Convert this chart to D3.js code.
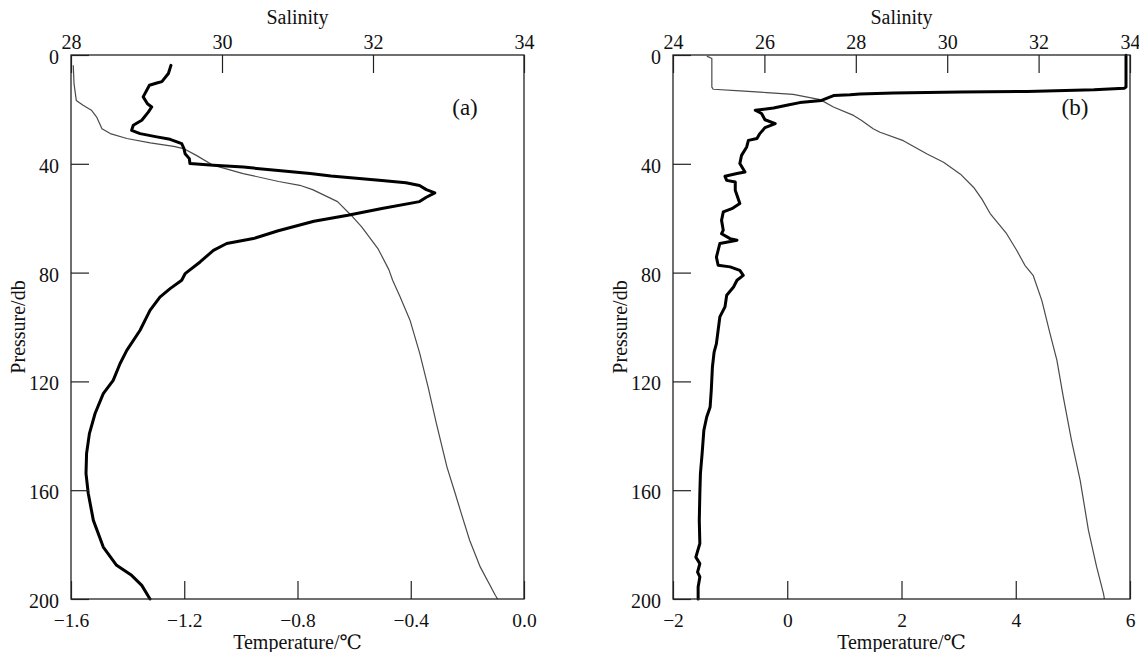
<!DOCTYPE html>
<html>
<head>
<meta charset="utf-8">
<script src="https://cdn.jsdelivr.net/npm/d3@7"></script>
<style>
  html, body { margin: 0; padding: 0; background: #fff; }
  svg { display: block; }
  svg text { font-family: "Liberation Serif", "Times New Roman", Times, "DejaVu Serif", serif !important; }
</style>
</head>
<body>
<svg id="chart" width="1139" height="652"></svg>
<script>
// ---- Station (a): temperature profile ----
const aTempPressure = [3.8, 6.8, 9.8, 10.3, 11.1, 14.2, 15.4, 17.9, 19.1, 21.0, 24.0, 25.8, 27.7, 28.9, 30.1, 31.0, 32.6, 34.4, 36.3, 38.1, 39.9, 40.5, 41.2, 42.5, 43.6, 44.5, 46.1, 47.0, 48.0, 49.5, 50.7, 52.3, 53.9, 56.4, 58.9, 61.1, 64.6, 67.5, 69.3, 71.8, 76.1, 80.4, 82.8, 85.9, 89.0, 93.9, 101.2, 108.6, 113.5, 119.6, 124.5, 131.8, 139.2, 146.5, 153.9, 161.2, 171.1, 180.9, 187.6, 191.3, 195.0, 200];
const aTemp = [-1.247, -1.256, -1.279, -1.297, -1.323, -1.339, -1.345, -1.330, -1.315, -1.327, -1.350, -1.380, -1.386, -1.356, -1.297, -1.250, -1.209, -1.201, -1.197, -1.182, -1.180, -1.097, -0.991, -0.868, -0.755, -0.682, -0.502, -0.417, -0.369, -0.345, -0.315, -0.345, -0.369, -0.502, -0.622, -0.742, -0.868, -0.956, -1.050, -1.097, -1.144, -1.197, -1.209, -1.250, -1.286, -1.321, -1.356, -1.403, -1.427, -1.451, -1.486, -1.515, -1.535, -1.545, -1.547, -1.539, -1.521, -1.486, -1.439, -1.386, -1.350, -1.321];

// ---- Station (a): salinity profile ----
const aSalPressure = [3.8, 10.5, 16.7, 18.5, 20.3, 22.8, 27.1, 28.9, 30.7, 32.3, 33.6, 34.4, 36.9, 40.5, 43.6, 46.5, 47.9, 49.5, 53.9, 58.9, 63.2, 71.4, 78.9, 82.8, 89.0, 97.5, 109.8, 122.1, 135.5, 151.5, 161.3, 168.6, 178.4, 188.2, 198.6, 200];
const aSal = [28.03, 28.04, 28.07, 28.16, 28.27, 28.34, 28.41, 28.52, 28.74, 29.05, 29.36, 29.49, 29.66, 29.88, 30.28, 30.75, 31.03, 31.20, 31.53, 31.71, 31.85, 32.07, 32.21, 32.26, 32.36, 32.49, 32.62, 32.73, 32.84, 32.98, 33.09, 33.17, 33.28, 33.42, 33.62, 33.65];

// ---- Station (b): temperature profile ----
const bTempPressure = [0.1, 11.8, 12.2, 12.8, 13.4, 13.6, 14.0, 14.3, 14.6, 14.9, 16.7, 17.5, 18.5, 19.5, 20.3, 21.5, 23.8, 25.2, 26.7, 28.9, 30.7, 31.4, 33.8, 36.9, 39.9, 43.0, 43.6, 44.6, 46.1, 46.7, 49.7, 54.6, 56.5, 57.7, 60.8, 64.4, 65.7, 67.5, 68.1, 69.3, 74.3, 77.3, 77.9, 79.2, 81.0, 82.8, 85.3, 88.3, 92.6, 96.3, 101.2, 106.1, 109.2, 114.7, 123.3, 129.4, 133.1, 138.0, 146.5, 153.9, 161.2, 171.1, 179.6, 184.6, 187.0, 190.1, 191.9, 195.6, 200];
const bTemp = [5.93, 5.93, 5.90, 5.37, 4.20, 3.03, 1.86, 1.27, 1.10, 0.81, 0.60, 0.22, -0.01, -0.24, -0.56, -0.45, -0.39, -0.21, -0.39, -0.48, -0.53, -0.68, -0.71, -0.80, -0.83, -0.74, -0.88, -1.09, -1.06, -0.91, -0.91, -0.83, -0.97, -1.12, -1.15, -1.12, -1.15, -1.00, -0.88, -1.18, -1.24, -1.21, -1.00, -0.83, -0.77, -0.88, -0.94, -1.06, -1.09, -1.18, -1.21, -1.24, -1.28, -1.31, -1.33, -1.35, -1.41, -1.46, -1.49, -1.52, -1.53, -1.54, -1.53, -1.60, -1.53, -1.57, -1.53, -1.56, -1.56];

// ---- Station (b): salinity profile ----
const bSalPressure = [0.4, 1.3, 11.8, 12.6, 13.2, 13.8, 14.5, 16.4, 19.1, 22.2, 24.0, 27.1, 28.4, 31.5, 36.4, 39.4, 43.8, 48.7, 53.0, 58.3, 65.7, 71.8, 77.3, 81.0, 90.2, 102.4, 112.2, 125.7, 141.7, 156.4, 174.7, 188.2, 198.0, 200];
const bSal = [24.74, 24.85, 24.85, 24.88, 25.47, 26.05, 26.63, 27.22, 27.51, 27.95, 28.12, 28.38, 28.53, 29.04, 29.56, 29.92, 30.29, 30.58, 30.76, 30.94, 31.30, 31.52, 31.70, 31.88, 32.07, 32.25, 32.40, 32.54, 32.72, 32.91, 33.09, 33.27, 33.42, 33.44];

// ---- Axis ticks ----
const pressureTicks = [0, 40, 80, 120, 160, 200];
const aSalTicks = [28, 30, 32, 34];
const aTempTicks = [-1.6, -1.2, -0.8, -0.4, 0.0];
const bSalTicks = [24, 26, 28, 30, 32, 34];
const bTempTicks = [-2, 0, 2, 4, 6];

const svg = d3.select("#chart");

const plotTop = 55, plotBottom = 599;
const y = d3.scaleLinear().domain([0, 200]).range([plotTop, plotBottom]);

function panel(opt) {
  const { left, right } = opt;
  const xT = d3.scaleLinear().domain(opt.tempDomain).range([left, right]);
  const xS = d3.scaleLinear().domain(opt.salDomain).range([left, right]);
  const g = svg.append("g");

  // profiles: salinity thin grey, temperature thick black
  const salLine = d3.line().x((d, i) => xS(opt.sal[i])).y(d => y(d));
  const tempLine = d3.line().x((d, i) => xT(opt.temp[i])).y(d => y(d));

  g.append("path")
    .attr("d", salLine(opt.salP))
    .attr("fill", "none")
    .attr("stroke", "#4a4a4a")
    .attr("stroke-width", 1.2)
    .attr("stroke-linejoin", "round");

  g.append("path")
    .attr("d", tempLine(opt.tempP))
    .attr("fill", "none")
    .attr("stroke", "#000")
    .attr("stroke-width", 3)
    .attr("stroke-linejoin", "round")
    .attr("stroke-linecap", "round");

  // axes with inward ticks
  const styleAxis = size => sel => {
    sel.select(".domain").remove();
    sel.attr("font-size", size);
    sel.selectAll(".tick line").attr("stroke", "#222").attr("stroke-width", 1.2);
    sel.selectAll(".tick text").attr("fill", "#111");
  };

  g.append("g").attr("transform", `translate(${left},0)`)
    .call(d3.axisLeft(y).tickValues(pressureTicks).tickFormat(d3.format("d"))
      .tickSizeInner(-18).tickSizeOuter(0).tickPadding(12))
    .call(styleAxis(20))
    .selectAll(".tick text").attr("dy", "0.42em");

  g.append("g").attr("transform", `translate(0,${plotTop})`)
    .call(d3.axisTop(xS).tickValues(opt.salTicks).tickFormat(d3.format("d"))
      .tickSizeInner(-18).tickSizeOuter(0).tickPadding(6))
    .call(styleAxis(20));

  g.append("g").attr("transform", `translate(0,${plotBottom})`)
    .call(d3.axisBottom(xT).tickValues(opt.tempTicks).tickFormat(d3.format(opt.tempFmt))
      .tickSizeInner(-18).tickSizeOuter(0).tickPadding(14))
    .call(styleAxis(19.5));

  // frame
  g.append("rect")
    .attr("x", left).attr("y", plotTop)
    .attr("width", right - left).attr("height", plotBottom - plotTop)
    .attr("fill", "none").attr("stroke", "#222").attr("stroke-width", 1.3);

  const cx = (left + right) / 2;
  g.append("text").attr("x", cx).attr("y", 24).attr("text-anchor", "middle")
    .attr("font-size", 20).attr("fill", "#111").text("Salinity");
  g.append("text").attr("x", cx).attr("y", 649).attr("text-anchor", "middle")
    .attr("font-size", 20).attr("fill", "#111").text("Temperature/℃");
  g.append("text")
    .attr("transform", `translate(${opt.yTitleX},${(plotTop + plotBottom) / 2}) rotate(-90)`)
    .attr("text-anchor", "middle").attr("dy", "0.35em")
    .attr("font-size", 20).attr("fill", "#111").text("Pressure/db");
  g.append("text").attr("x", opt.tagX).attr("y", 115).attr("text-anchor", "middle")
    .attr("font-size", 23).attr("fill", "#111").text(opt.tag);
}

panel({
  left: 71, right: 524,
  tempDomain: [-1.6, 0], salDomain: [28, 34],
  temp: aTemp, tempP: aTempPressure, sal: aSal, salP: aSalPressure,
  salTicks: aSalTicks, tempTicks: aTempTicks, tempFmt: ".1f",
  yTitleX: 18, tagX: 465, tag: "(a)"
});

panel({
  left: 673, right: 1130,
  tempDomain: [-2, 6], salDomain: [24, 34],
  temp: bTemp, tempP: bTempPressure, sal: bSal, salP: bSalPressure,
  salTicks: bSalTicks, tempTicks: bTempTicks, tempFmt: "d",
  yTitleX: 620, tagX: 1075, tag: "(b)"
});
</script>
</body>
</html>
